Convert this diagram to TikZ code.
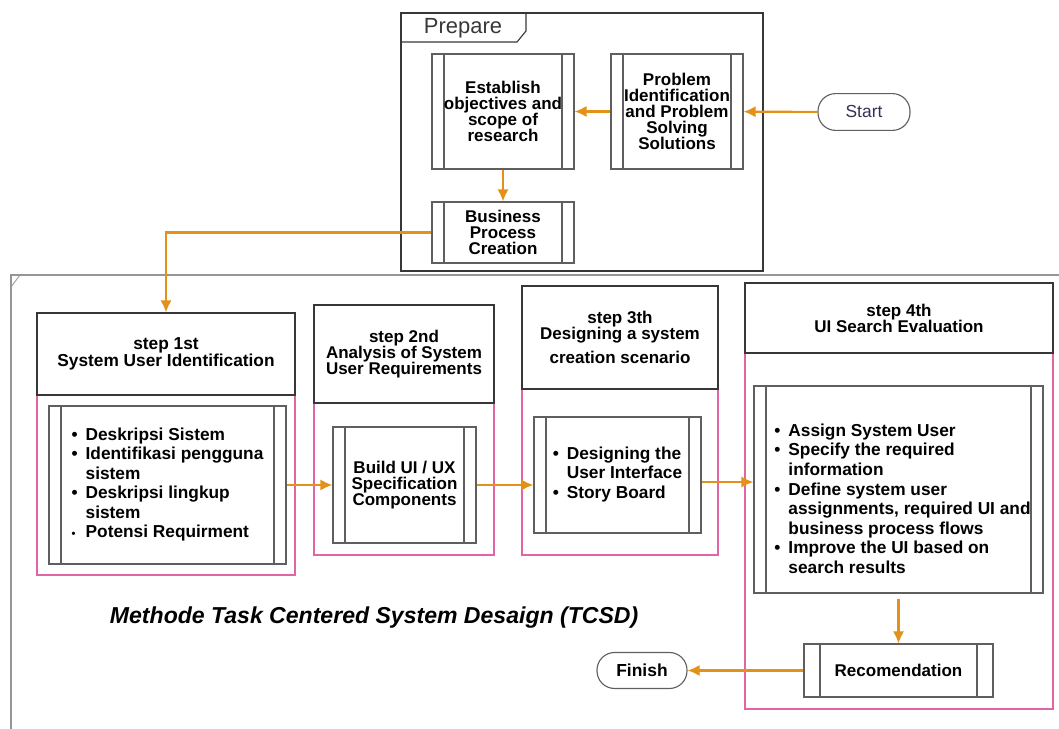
\documentclass[tikz,border=0pt]{standalone}
\usepackage{fontspec}
\setmainfont{Liberation Sans}
\usetikzlibrary{calc, arrows.meta}

\definecolor{flowc}{RGB}{228,145,25}
\definecolor{lanec}{RGB}{225,100,165}
\definecolor{boxgray}{RGB}{95,95,95}
\definecolor{framegray}{RGB}{55,55,55}
\definecolor{outergray}{RGB}{150,150,150}
\definecolor{starttxt}{RGB}{50,50,85}

\newcommand{\boxtxt}{\bfseries\fontsize{12.1}{11.4}\selectfont}
\newcommand{\listtxt}{\bfseries\fontsize{12.3}{13.9}\selectfont}

\tikzset{
  procbox/.style={draw=boxgray, line width=0.8pt, rectangle, inner sep=0pt,
    font=\boxtxt, align=center,
    path picture={
      \draw[boxgray, line width=0.8pt]
        ([xshift=#1]path picture bounding box.north west) -- ([xshift=#1]path picture bounding box.south west)
        ([xshift=-#1]path picture bounding box.north east) -- ([xshift=-#1]path picture bounding box.south east);
    }},
  procbox/.default=3mm,
  headbox/.style={draw=framegray, line width=0.8pt, rectangle, font=\boxtxt, align=center},
  lanebox/.style={draw=lanec, line width=0.8pt, rectangle},
  termbox/.style={draw=boxgray, line width=0.8pt, rounded corners=4.4mm,
    minimum width=23mm, minimum height=9.2mm},
  flow/.style={->, >={Latex[length=3mm, width=2.8mm]}, draw=flowc, line width=1.5pt}
}

\begin{document}
\begin{tikzpicture}[x=0.25mm, y=-0.25mm]
  \useasboundingbox (0, 0) rectangle (1059, 729);

  \draw [framegray, line width=0.8pt] (401, 13) rectangle (763, 271);
  \draw [framegray, line width=0.8pt] (401, 42) -- (517, 42) -- (526, 31) -- (526, 13);
  \node (prep) at (463, 28) [font=\fontsize{15.6}{16}\selectfont, text=framegray] {Prepare};

  \draw [outergray, line width=1pt] (1059, 275) -- (11, 275) -- (11, 729);
  \draw [outergray, line width=0.6pt] (11, 287) -- (20, 275);

  \node (start) at (864, 112) [termbox, text=starttxt, font=\fontsize{12.4}{13}\selectfont] {Start};
  \node (problem) at (677, 111.5) [procbox, minimum width=33mm, minimum height=28.75mm]
    {Problem\\Identification\\and Problem\\Solving\\Solutions};
  \node (establish) at (503, 111.5) [procbox, minimum width=35.5mm, minimum height=28.75mm]
    {Establish\\objectives and\\scope of\\research};
  \node (business) at (503, 232.5) [procbox, minimum width=35.5mm, minimum height=15.25mm]
    {Business\\Process\\Creation};

  \node (s1lane) at (166, 485) [lanebox, minimum width=64.5mm, minimum height=45mm] {};
  \node (s1head) at (166, 354) [headbox, minimum width=64.5mm, minimum height=20.5mm,
    font=\bfseries\fontsize{12.3}{12}\selectfont] {step 1st\\System User Identification};
  \node (s1inner) at (167.5, 485) [procbox, minimum width=59.25mm, minimum height=39.5mm, font=\listtxt] {%
    \begin{tabular}{@{}l@{\hspace{2mm}}l@{}}
      \textbullet & Deskripsi Sistem\\
      \textbullet & Identifikasi pengguna\\
                  & sistem\\
      \textbullet & Deskripsi lingkup\\
                  & sistem\\
      {\fontsize{8}{8}\selectfont\textbullet} & Potensi Requirment
    \end{tabular}};

  \node (s2lane) at (404, 479) [lanebox, minimum width=45mm, minimum height=38mm] {};
  \node (s2head) at (404, 354) [headbox, minimum width=45mm, minimum height=24.5mm]
    {step 2nd\\Analysis of System\\User Requirements};
  \node (s2inner) at (404.5, 485) [procbox, minimum width=35.75mm, minimum height=29mm]
    {Build UI / UX\\Specification\\Components};

  \node (s3lane) at (620, 472) [lanebox, minimum width=49mm, minimum height=41.5mm] {};
  \node (s3head) at (620, 337.5) [headbox, minimum width=49mm, minimum height=25.75mm]
    {step 3th\\Designing a system\\[6pt]creation scenario};
  \node (s3inner) at (617.5, 475) [procbox, minimum width=41.75mm, minimum height=29mm, font=\listtxt] {%
    \begin{tabular}{@{}l@{\hspace{2mm}}l@{}}
      \textbullet & Designing the\\
                  & User Interface\\
      \textbullet & Story Board
    \end{tabular}};

  \node (s4lane) at (899, 531) [lanebox, minimum width=77mm, minimum height=89mm] {};
  \node (s4head) at (899, 318) [headbox, minimum width=77mm, minimum height=17.5mm]
    {step 4th\\UI Search Evaluation};
  \node (s4inner) at (898.5, 489.5) [procbox, minimum width=72.25mm, minimum height=51.75mm, font=\listtxt] {%
    \begin{tabular}{@{\hspace{2mm}}l@{\hspace{2mm}}l@{}}
      \rule{0pt}{26pt}\textbullet & Assign System User\\
      \textbullet & Specify the required\\
                  & information\\
      \textbullet & Define system user\\
                  & assignments, required UI and\\
                  & business process flows\\
      \textbullet & Improve the UI based on\\
                  & search results
    \end{tabular}};
  \node (recom) at (898.5, 670.5) [procbox=4mm, minimum width=47.25mm, minimum height=13.25mm]
    {Recomendation};

  \node (finish) at (642, 670.5) [termbox, minimum width=22.5mm, minimum height=9mm,
    font=\bfseries\fontsize{12.4}{13}\selectfont] {Finish};

  \node (title) at (105, 623) [anchor=base west, font=\bfseries\itshape\fontsize{16.4}{18}\selectfont]
    {Methode Task Centered System Desaign (TCSD)};

  \draw [flow] (start) -- (problem);
  \draw [flow] (problem) -- (establish);
  \draw [flow] (establish) -- (business);
  \draw [flow] (business.west) -| (s1head.north);
  \draw [flow] (s1inner) -- (s2inner);
  \draw [flow] (s2inner.east) -- (s2inner.east -| s3inner.west);
  \draw [flow] ([yshift=-1.75mm]s3inner.east) -- ([yshift=-1.75mm]s3inner.east -| s4inner.west);
  \draw [flow] ([yshift=-1.25mm]s4inner.south) -- (recom);
  \draw [flow] (recom) -- (finish);
\end{tikzpicture}
\end{document}
